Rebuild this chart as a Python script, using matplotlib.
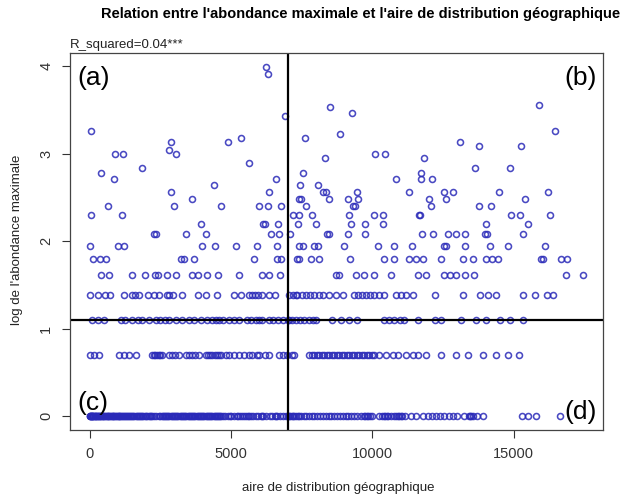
import numpy as np
import matplotlib
matplotlib.use("Agg")
import matplotlib.pyplot as plt

plt.rcParams['font.family'] = ['Liberation Sans', 'DejaVu Sans']

title = "Relation entre l'abondance maximale et l'aire de distribution géographique"
subtitle = "R_squared=0.04***"
xlabel = "aire de distribution géographique"
ylabel = "log de l'abondance maximale"
corner_labels = ["(a)", "(b)", "(c)", "(d)"]
x_cut = 7000
abund_cut = 3

# abundance level -> list of distribution areas
aire_n1 = [0, 10, 20, 35, 50, 65, 80, 95, 110, 130, 150, 170, 190, 210, 230, 255, 280, 305, 330, 355,
           380, 405, 430, 455, 480, 510, 540, 570, 600, 630, 660, 690, 720, 750, 780, 810, 840, 870,
           900, 930, 960, 990, 1020, 1050, 1080, 1115, 1150, 1185, 1220, 1255, 1290, 1325, 1360,
           1395, 1430, 1465, 1500, 1540, 1580, 1620, 1660, 1700, 1740, 1780, 1820, 1860, 1900, 1945,
           1990, 2035, 2080, 2125, 2170, 2215, 2260, 2350, 2450, 2500, 2540, 2580, 2620, 2660, 2700,
           2740, 2780, 2820, 2860, 2900, 2940, 2980, 3020, 3060, 3100, 3140, 3180, 3220, 3260, 3300,
           3340, 3380, 3420, 3460, 3500, 3540, 3580, 3620, 3660, 3700, 3740, 3780, 3820, 3860, 3900,
           3940, 3980, 4020, 4060, 4100, 4140, 4180, 4220, 4260, 4300, 4340, 4380, 4420, 4460, 4500,
           4540, 4580, 4620, 4660, 4700, 4800, 4900, 4950, 5000, 5100, 5200, 5250, 5300, 5380, 5460,
           5540, 5600, 5650, 5700, 5760, 5870, 5960, 6050, 6100, 6140, 6250, 6360, 6450, 6540, 6590,
           6640, 6740, 6840, 6930, 7010, 7050, 7080, 7150, 7190, 7230, 7310, 7360, 7400, 7480, 7570,
           7660, 7750, 7850, 7950, 8050, 8150, 8250, 8350, 8450, 8550, 8650, 8750, 8850, 8950, 9050,
           9150, 9250, 9350, 9450, 9600, 9700, 9750, 9800, 9850, 9900, 10000, 10250, 10350, 10400,
           10450, 10500, 10550, 10650, 10750, 10850, 10900, 10950, 11000, 11050, 11150, 11350, 11550,
           11800, 11950, 12100, 12250, 12400, 12550, 12700, 12850, 13000, 13250, 13400, 13450, 13500,
           13550, 13700, 13900, 15300, 15500, 15800, 16630]
aire_n2 = [0, 140, 320, 1030, 1205, 1380, 1620, 2200, 2260, 2320, 2380, 2440, 2500, 2560, 2800, 2900,
           3000, 3155, 3390, 3500, 3620, 3740, 3865, 4100, 4180, 4260, 4340, 4420, 4500, 4580, 4660,
           4810, 4930, 5100, 5280, 5450, 5640, 5750, 5900, 6000, 6200, 6350, 6700, 6850, 6980, 7150,
           7235, 7770, 7850, 7950, 8030, 8120, 8200, 8300, 8380, 8475, 8560, 8650, 8740, 8830, 8920,
           9005, 9100, 9185, 9270, 9360, 9450, 9540, 9630, 9715, 9800, 9895, 9980, 10070, 10250, 10490,
           10720, 10900, 11190, 11430, 11600, 11900, 12440, 12970, 13380, 13910, 14390, 14800, 15190]
aire_n3 = [80, 300, 500, 1090, 1260, 1500, 1700, 1850, 2090, 2330, 2500, 2650, 2800, 3040, 3250, 3510,
           3700, 3930, 4160, 4340, 4450, 4575, 4700, 4930, 5100, 5280, 5550, 5700, 5880, 5990, 6100,
           6350, 6500, 6650, 6850, 7000, 7060, 7150, 7290, 7450, 7590, 7770, 7900, 8000, 8580, 8890,
           9185, 9470, 10425, 10600, 10780, 10960, 11135, 11600, 12200, 12440, 13150, 13680, 14030,
           14500, 14860, 15330]
aire_n4 = [0, 280, 550, 700, 1205, 1490, 1600, 1740, 2070, 2270, 2450, 2740, 2800, 2940, 3270, 3840,
           4100, 4490, 5105, 5340, 5640, 5740, 5850, 5960, 6100, 6350, 6560, 7060, 7200, 7290, 7350,
           7500, 7650, 7800, 7950, 8100, 8250, 8475, 8710, 8950, 9360, 9500, 9640, 9780, 9920, 10070,
           10250, 10425, 10840, 11000, 11200, 11430, 12200, 13200, 13795, 14090, 14390, 15330, 15745,
           16160, 16390]
aire_n5 = [415, 670, 1500, 1950, 2300, 2400, 2740, 3060, 3630, 3840, 4160, 4540, 5280, 6110, 6350,
           6740, 8710, 8830, 9420, 9715, 10045, 10660, 11600, 11900, 12550, 12730, 12970, 13260, 13580,
           16840, 17460]
aire_n6 = [105, 380, 560, 3215, 3330, 3690, 5815, 6640, 6760, 7350, 7420, 7830, 8100, 9210, 10425,
           10780, 11310, 11550, 11780, 12440, 13210, 13560, 14030, 14230, 14440, 15950, 16050, 16690,
           16890]
aire_n7 = [0, 990, 1205, 3960, 4430, 5170, 5930, 6640, 7400, 7530, 7945, 8060, 9005, 10200, 10780,
           11390, 12540, 12620, 13260, 14150, 14800, 16120]
aire_n8 = [2270, 2330, 3390, 4120, 6410, 6700, 7090, 8400, 8480, 9125, 9750, 11760, 12140, 12680,
           12970, 13260, 14000, 14060, 15330]
aire_n9 = [3950, 6140, 6200, 6670, 7370, 8000, 9245, 9750, 10390, 14010, 15510]
aire_n10 = [50, 1145, 7175, 7410, 7880, 9185, 10050, 10390, 11640, 11700, 14920, 15210, 16300]
aire_n11 = [660, 2980, 4645, 5990, 6290, 6760, 7650, 9330, 9400, 12080, 13770, 14180]
aire_n12 = [3605, 7400, 7470, 8475, 9125, 9480, 12020, 12610, 15390]
aire_n13 = [2860, 6350, 8240, 8360, 9440, 11290, 12550, 12850, 14480, 16220]
aire_n14 = [4410, 7450, 8060]
aire_n15 = [875, 6585, 10840, 11725, 12120]
aire_n16 = [400, 7530, 11725]
aire_n17 = [1855, 13620, 14860]
aire_n18 = [5640]
aire_n19 = [8330, 11820]
aire_n20 = [910, 1180, 3040, 10095, 10460]
aire_n21 = [2800]
aire_n22 = [13770, 15270]
aire_n23 = [2885, 4905, 13085]
aire_n24 = [5340, 7610]
aire_n25 = [8850]
aire_n26 = [50, 16450]
aire_n31 = [6900]
aire_n32 = [9280]
aire_n34 = [8510]
aire_n35 = [15890]
aire_n50 = [6290]
aire_n54 = [6230]

groups = {1: aire_n1, 2: aire_n2, 3: aire_n3, 4: aire_n4, 5: aire_n5, 6: aire_n6, 7: aire_n7,
          8: aire_n8, 9: aire_n9, 10: aire_n10, 11: aire_n11, 12: aire_n12, 13: aire_n13,
          14: aire_n14, 15: aire_n15, 16: aire_n16, 17: aire_n17, 18: aire_n18, 19: aire_n19,
          20: aire_n20, 21: aire_n21, 22: aire_n22, 23: aire_n23, 24: aire_n24, 25: aire_n25,
          26: aire_n26, 31: aire_n31, 32: aire_n32, 34: aire_n34, 35: aire_n35, 50: aire_n50,
          54: aire_n54}

xs, ys = [], []
for n, vals in groups.items():
    xs.extend(vals)
    ys.extend([np.log(n)] * len(vals))
xs = np.array(xs, float)
ys = np.array(ys, float)

W, H = 623, 497
fig = plt.figure(figsize=(W / 100, H / 100), dpi=100)
ax = fig.add_axes([70 / W, 1 - 430 / H, 533 / W, 377 / H])

ax.plot(xs, ys, linestyle='none', marker='o', markersize=4.3, markerfacecolor='none',
        markeredgecolor='#2a2ab8', markeredgewidth=1.15, alpha=0.85)

ax.axvline(x_cut, color='black', lw=1.6)
ax.axhline(np.log(abund_cut), color='black', lw=1.6)

xr = xs.max() - xs.min()
yr = ys.max() - ys.min()
ax.set_xlim(xs.min() - 0.04 * xr, xs.max() + 0.04 * xr)
ax.set_ylim(ys.min() - 0.04 * yr, ys.max() + 0.04 * yr)

ax.set_xticks([0, 5000, 10000, 15000])
ax.set_yticks([0, 1, 2, 3, 4])
ax.tick_params(direction='out', length=6, width=0.8, colors='#333333', labelsize=10.5, pad=6)
for lab in ax.get_yticklabels():
    lab.set_rotation(90)
    lab.set_va('center')
for s in ax.spines.values():
    s.set_color('#444444')
    s.set_linewidth(0.9)

fig.text(361 / W, 1 - 14 / H, title, ha='center', va='center', fontsize=10.5, fontweight='bold')
ax.text(0.0, 1.005, subtitle, transform=ax.transAxes, ha='left', va='bottom', fontsize=9.5,
        color='#222222')
fig.text(338 / W, 1 - 488 / H, xlabel, ha='center', va='center', fontsize=9.5, color='#222222')
fig.text(17 / W, 1 - 240 / H, ylabel, ha='center', va='center', rotation=90, fontsize=9.5,
         color='#222222')

ax.text(0.013, 0.965, corner_labels[0], transform=ax.transAxes, ha='left', va='top', fontsize=19)
ax.text(0.988, 0.965, corner_labels[1], transform=ax.transAxes, ha='right', va='top', fontsize=19)
ax.text(0.013, 0.04, corner_labels[2], transform=ax.transAxes, ha='left', va='bottom', fontsize=19)
ax.text(0.988, 0.015, corner_labels[3], transform=ax.transAxes, ha='right', va='bottom', fontsize=19)

fig.savefig('out.png', dpi=100)
